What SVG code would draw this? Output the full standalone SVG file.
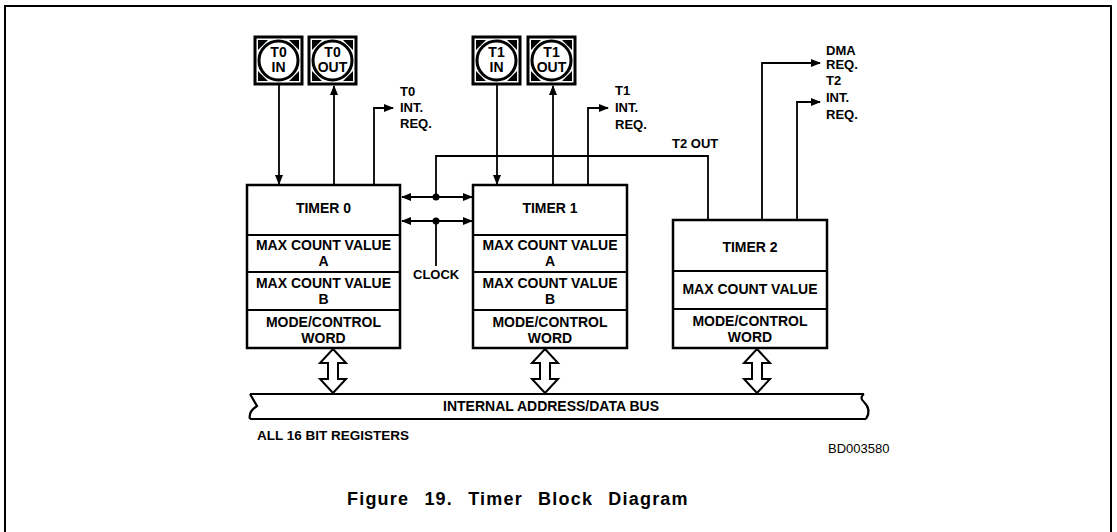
<svg xmlns="http://www.w3.org/2000/svg" width="1117" height="532" viewBox="0 0 1117 532">
<style>
text{font-family:"Liberation Sans",Arial,sans-serif;font-weight:bold;fill:#000}
.box{fill:#fff;stroke:#000;stroke-width:2.5}
.sep{stroke:#000;stroke-width:2}
.t14{font-size:14px;text-anchor:middle}
.lbl{font-size:13px}
.ln{fill:none;stroke:#000;stroke-width:1.8}
.pin{fill:#fff;stroke:#000;stroke-width:3}
.dbl{fill:#fff;stroke:#000;stroke-width:2;stroke-linejoin:miter}
</style>
<defs>
<marker id="ah" markerWidth="10" markerHeight="8" refX="9" refY="4" orient="auto-start-reverse" markerUnits="userSpaceOnUse">
<path d="M0,0 L10,4 L0,8 Z" fill="#000"/>
</marker>
<g id="pinshape">
<rect class="pin" x="0" y="0" width="47" height="47"/>
<path d="M3,3 h10 L3,13 Z M44,3 h-10 L44,13 Z M3,44 h10 L3,34 Z M44,44 h-10 L44,34 Z" fill="#000"/>
<circle class="pin" cx="23.5" cy="23.5" r="19.5"/>
</g>
</defs>
<rect width="1117" height="532" fill="#fff"/>
<path d="M5,532 V6 H1111 V532" fill="none" stroke="#000" stroke-width="2"/>

<g id="connectors">
<path class="ln" d="M279,84 V184" marker-end="url(#ah)"/>
<path class="ln" d="M334,185 V86" marker-end="url(#ah)"/>
<path class="ln" d="M374,185 V108 H393" marker-end="url(#ah)"/>
<path class="ln" d="M497,84 V184" marker-end="url(#ah)"/>
<path class="ln" d="M553,185 V86" marker-end="url(#ah)"/>
<path class="ln" d="M588,185 V108 H608" marker-end="url(#ah)"/>
<path class="ln" d="M762,220 V63 H820" marker-end="url(#ah)"/>
<path class="ln" d="M797,220 V102 H820" marker-end="url(#ah)"/>
<path class="ln" d="M708,220 V156 H436 V197"/>
<path class="ln" d="M402,197 H472" marker-start="url(#ah)" marker-end="url(#ah)"/>
<path class="ln" d="M402,221 H472" marker-start="url(#ah)" marker-end="url(#ah)"/>
<path class="ln" d="M436,221 V266"/>
<circle cx="436" cy="197" r="3.5" fill="#000"/>
<circle cx="436" cy="221" r="3.5" fill="#000"/>
<path class="dbl" d="M333,349 L346,363 L338,363 L338,379 L346,379 L333,393 L320,379 L328,379 L328,363 L320,363 Z"/>
<path class="dbl" d="M545,349 L558,363 L550,363 L550,379 L558,379 L545,393 L532,379 L540,379 L540,363 L532,363 Z"/>
<path class="dbl" d="M757,349 L770,363 L762,363 L762,379 L770,379 L757,393 L744,379 L752,379 L752,363 L744,363 Z"/>
</g>

<g id="bus">
<path d="M250,394 H864 M250,419 H866" fill="none" stroke="#000" stroke-width="2.2"/>
<path d="M250,394 L257,406 Q248,412 250,419" fill="none" stroke="#000" stroke-width="2.2"/>
<path d="M864,394 Q859,398 864,402 Q872,410 866,419" fill="none" stroke="#000" stroke-width="2.2"/>
<text class="t14" x="551" y="411">INTERNAL ADDRESS/DATA BUS</text>
</g>

<g id="t0in"><use href="#pinshape" x="255" y="37"/><text class="t14" x="278.5" y="57">T0</text><text class="t14" x="278.5" y="72">IN</text></g>
<g id="t0out"><use href="#pinshape" x="309" y="37"/><text class="t14" x="332.5" y="57">T0</text><text class="t14" x="332.5" y="72">OUT</text></g>
<g id="t1in"><use href="#pinshape" x="473" y="37"/><text class="t14" x="496.5" y="57">T1</text><text class="t14" x="496.5" y="72">IN</text></g>
<g id="t1out"><use href="#pinshape" x="528" y="37"/><text class="t14" x="551.5" y="57">T1</text><text class="t14" x="551.5" y="72">OUT</text></g>

<g id="timer0">
<rect class="box" x="247" y="185" width="153" height="163"/>
<path class="sep" d="M247,235 H400 M247,272 H400 M247,310 H400"/>
<text class="t14" x="323.5" y="213">TIMER 0</text>
<text class="t14" x="323.5" y="250">MAX COUNT VALUE</text>
<text class="t14" x="323.5" y="266">A</text>
<text class="t14" x="323.5" y="288">MAX COUNT VALUE</text>
<text class="t14" x="323.5" y="304">B</text>
<text class="t14" x="323.5" y="327">MODE/CONTROL</text>
<text class="t14" x="323.5" y="343">WORD</text>
</g>
<g id="timer1">
<rect class="box" x="473" y="185" width="154" height="163"/>
<path class="sep" d="M473,235 H627 M473,272 H627 M473,310 H627"/>
<text class="t14" x="550" y="213">TIMER 1</text>
<text class="t14" x="550" y="250">MAX COUNT VALUE</text>
<text class="t14" x="550" y="266">A</text>
<text class="t14" x="550" y="288">MAX COUNT VALUE</text>
<text class="t14" x="550" y="304">B</text>
<text class="t14" x="550" y="327">MODE/CONTROL</text>
<text class="t14" x="550" y="343">WORD</text>
</g>
<g id="timer2">
<rect class="box" x="673" y="220" width="154" height="128"/>
<path class="sep" d="M673,271 H827 M673,309 H827"/>
<text class="t14" x="750" y="252">TIMER 2</text>
<text class="t14" x="750" y="294">MAX COUNT VALUE</text>
<text class="t14" x="750" y="326">MODE/CONTROL</text>
<text class="t14" x="750" y="342">WORD</text>
</g>

<g id="labels">
<text class="lbl" x="400" y="96">T0</text>
<text class="lbl" x="400" y="112">INT.</text>
<text class="lbl" x="400" y="128">REQ.</text>
<text class="lbl" x="615" y="95">T1</text>
<text class="lbl" x="615" y="112">INT.</text>
<text class="lbl" x="615" y="129">REQ.</text>
<text class="lbl" x="826" y="55">DMA</text>
<text class="lbl" x="826" y="69">REQ.</text>
<text class="lbl" x="826" y="85">T2</text>
<text class="lbl" x="826" y="102">INT.</text>
<text class="lbl" x="826" y="119">REQ.</text>
<text class="lbl" x="672" y="148">T2 OUT</text>
<text class="lbl" x="413" y="279">CLOCK</text>
<text class="lbl" x="257" y="440" style="font-size:13.5px">ALL 16 BIT REGISTERS</text>
<text x="828" y="453" style="font-size:13px;font-weight:normal">BD003580</text>
<text x="347" y="505" style="font-size:18px;letter-spacing:1.2px;word-spacing:9px">Figure 19. Timer Block Diagram</text>
</g>
</svg>
